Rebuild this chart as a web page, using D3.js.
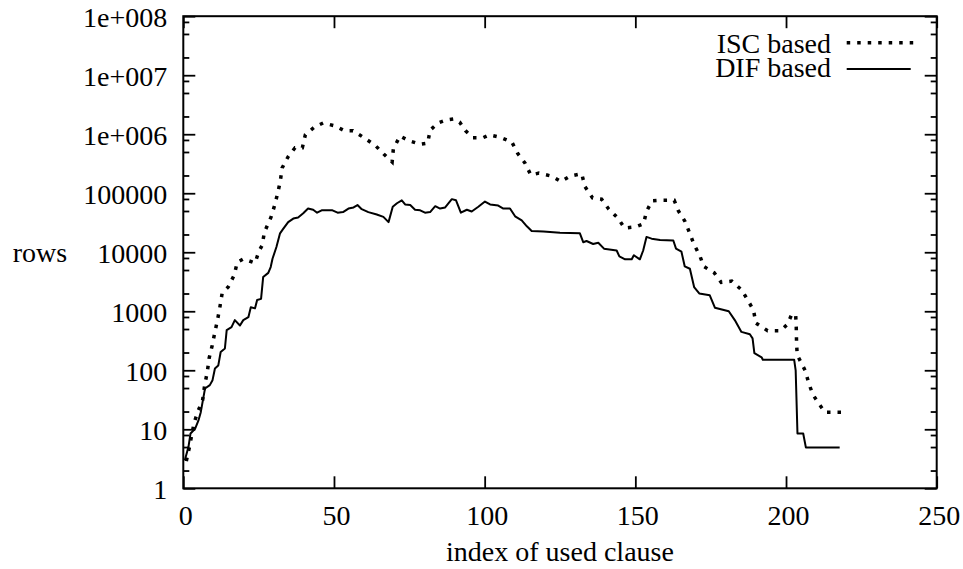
<!DOCTYPE html>
<html>
<head>
<meta charset="utf-8">
<script src="https://cdn.jsdelivr.net/npm/d3@7"></script>
<style>
  html, body { margin: 0; padding: 0; background: #fff; }
  svg { display: block; }
  svg text { font-family: 'Liberation Serif', 'DejaVu Serif', 'Times New Roman', Times, serif !important; font-size: 28px; fill: #000; }
</style>
</head>
<body>
<svg id="chart" width="963" height="569"></svg>
<script>
// ---- data ----
const xTicks = [0, 50, 100, 150, 200, 250];
const yTicks = [1, 10, 100, 1000, 10000, 100000, 1e6, 1e7, 1e8];
const yTickLabels = ["1", "10", "100", "1000", "10000", "100000", "1e+006", "1e+007", "1e+008"];
const seriesNames = ["ISC based", "DIF based"];

// ISC based (dotted)
const iscIndex = [1, 2, 3.6, 5, 6.4, 7, 8, 8.6, 9.6, 10.5, 11.4, 12.2, 12.9, 14.9, 16.9, 17.9, 19.9, 23.8, 25.1, 26.2,
  26.9, 29.1, 30.4, 31.5, 32.2, 32.8, 34.8, 37.1, 39.5, 40.5, 43.5, 46.4, 50.4, 53.4, 56.3, 60, 63.7, 66.6, 69.3, 69.7,
  71.9, 74.9, 78.6, 81.1, 81.9, 84.5, 87.2, 89.8, 91.7, 93.6, 96.1, 99.4, 101.6, 105.1, 109, 111, 113.4, 115.3, 118, 122.2,
  125.3, 128.3, 132.2, 133.3, 135.8, 138.8, 141.2, 144.2, 146.4, 150.1, 152.7, 153.7, 155.5, 158.4, 162.9, 164.3, 166.4, 167.9, 169.4, 171.4,
  172.7, 176.2, 178.5, 182, 185.3, 187.6, 189.2, 190, 193.9, 198.2, 200.5, 201.9, 203.2, 203.4, 203.5, 203.7, 206.4, 207.6, 208.9, 210.7,
  212.9, 218.4];
const iscRows = [2.9, 4.9, 13, 21, 31, 52, 97, 162, 265, 447, 731, 1230, 2040, 2570, 4120, 6760, 7710, 6590, 10400, 13200,
  21800, 39200, 64600, 110000, 162000, 269000, 417000, 589000, 589000, 977000, 1320000, 1550000, 1380000, 1150000, 1150000, 871000, 646000, 457000, 339000, 562000,
  933000, 776000, 676000, 708000, 1170000, 1550000, 1740000, 1820000, 1600000, 1150000, 871000, 871000, 977000, 891000, 741000, 468000, 324000, 204000, 219000, 195000,
  158000, 195000, 214000, 129000, 83200, 79400, 53700, 38000, 25700, 26900, 30200, 49000, 74100, 75900, 75900, 50100, 33900, 21900, 13800, 8710,
  5750, 4470, 3090, 3240, 2290, 1450, 1050, 631, 468, 468, 603, 891, 871, 525, 295, 182, 98, 59, 39, 28,
  19.5, 19.5];

// DIF based (solid)
const difIndex = [0.5, 1.7, 2.4, 3.9, 5, 5.8, 6.6, 7.2, 8.8, 9.7, 10.5, 11.6, 12.4, 13.8, 14.4, 16, 17.1, 18.8, 19.9, 21.6,
  22.4, 23.8, 24.5, 25.8, 26.5, 28.2, 29, 29.6, 30.9, 32.1, 33.2, 34.8, 36.5, 38.1, 39.8, 41.4, 43.1, 44.4, 45.9, 49.5,
  51.2, 53, 54.8, 56.5, 57.8, 59.2, 61.4, 64.2, 66.4, 68.1, 69.5, 70.9, 72.5, 73.6, 75.3, 76.9, 78.6, 80.2, 81.9, 83.6,
  85.2, 86.9, 89.1, 90.5, 92.1, 94.1, 95.7, 97.9, 100.1, 101.8, 104.5, 106.2, 108.4, 110.1, 112.3, 114, 115.6, 119.5, 125, 131.6,
  132.7, 133.8, 136, 137.7, 139.6, 143.8, 144.7, 146.6, 148.8, 149.5, 151.5, 152.6, 153.7, 155.4, 158.2, 162.6, 163.5, 165.3, 166.4, 168.1,
  169.5, 171.2, 174.7, 176.4, 181, 183, 185.2, 188, 188.9, 189.5, 191.9, 192.3, 202.7, 203.2, 203.8, 205.7, 206.6, 217.8];
const difRows = [3, 5, 8.5, 10.2, 14, 19.5, 33, 49, 56, 68, 107, 120, 204, 234, 479, 537, 708, 575, 708, 794,
  1170, 1120, 1550, 1620, 3800, 4470, 5620, 7760, 12300, 20900, 25100, 32400, 37200, 38900, 45700, 55000, 52500, 46800, 51300, 51300,
  46800, 47900, 55000, 57500, 63100, 53700, 47900, 43700, 39800, 32400, 58900, 67600, 75900, 64600, 63100, 52500, 51300, 46800, 47900, 60300,
  55000, 57500, 79400, 75900, 46800, 52500, 49000, 58900, 72400, 64600, 61700, 55000, 55000, 40700, 34700, 27500, 22900, 22400, 21400, 20900,
  14800, 15500, 13800, 14500, 11500, 10700, 8510, 7590, 7590, 8910, 7590, 10700, 18200, 17000, 16200, 15800, 11500, 10200, 5750, 5250,
  2570, 2000, 1860, 1150, 1000, 708, 447, 407, 347, 195, 166, 151, 151, 100, 8.5, 8.5, 4.9, 4.9];

// ---- layout ----
const FONT = "'Liberation Serif', 'DejaVu Serif', 'Times New Roman', Times, serif";
const L = 183.3, R = 936.7, T = 16.2, B = 488.3;
const svg = d3.select("#chart").attr("font-family", FONT);
const x = d3.scaleLinear().domain([0, 250]).range([L, R]);
const y = d3.scaleLog().domain([1, 1e8]).range([B, T]);

const minorTicks = [];
for (let k = 0; k < 8; k++) [2, 5, 8].forEach(m => minorTicks.push(m * Math.pow(10, k)));

function styleAxis(g) {
  g.attr("font-family", FONT).attr("font-size", 28);
  g.select(".domain").remove();
  g.selectAll(".tick line").attr("stroke", "#000").attr("stroke-width", 1.8);
  g.selectAll("text").attr("fill", "#000");
}

// bottom axis with labels
const gBottom = svg.append("g").attr("transform", `translate(0,${B})`)
  .call(d3.axisBottom(x).tickValues(xTicks).tickFormat(d3.format("d")).tickSize(-12))
  .call(styleAxis);
gBottom.selectAll("text").attr("y", 37).attr("dy", null).attr("dx", 2);

// top axis (mirror)
svg.append("g").attr("transform", `translate(0,${T})`)
  .call(d3.axisTop(x).tickValues(xTicks).tickFormat("").tickSize(-12))
  .call(styleAxis);

// left axis with labels
const gLeft = svg.append("g").attr("transform", `translate(${L},0)`)
  .call(d3.axisLeft(y).tickValues(yTicks).tickFormat((d, i) => yTickLabels[i]).tickSize(-12))
  .call(styleAxis);
gLeft.selectAll("text").attr("x", -16).attr("dy", null).attr("y", 10);
svg.append("g").attr("transform", `translate(${L},0)`)
  .call(d3.axisLeft(y).tickValues(minorTicks).tickFormat("").tickSize(-6))
  .call(styleAxis);

// right axis (mirror)
svg.append("g").attr("transform", `translate(${R},0)`)
  .call(d3.axisRight(y).tickValues(yTicks).tickFormat("").tickSize(-12))
  .call(styleAxis);
svg.append("g").attr("transform", `translate(${R},0)`)
  .call(d3.axisRight(y).tickValues(minorTicks).tickFormat("").tickSize(-6))
  .call(styleAxis);

// border
svg.append("rect").attr("x", L).attr("y", T).attr("width", R - L).attr("height", B - T)
  .attr("fill", "none").attr("stroke", "#000").attr("stroke-width", 2);

// series
const line = d3.line().x(d => x(d[0])).y(d => y(d[1]));
const isc = iscIndex.map((d, i) => [d, iscRows[i]]);
const dif = difIndex.map((d, i) => [d, difRows[i]]);

svg.append("path").datum(isc).attr("d", line)
  .attr("fill", "none").attr("stroke", "#000").attr("stroke-width", 3.5)
  .attr("stroke-dasharray", "3.5,7").attr("stroke-linecap", "butt");
svg.append("path").datum(dif).attr("d", line)
  .attr("fill", "none").attr("stroke", "#000").attr("stroke-width", 2)
  .attr("stroke-linejoin", "round");

// axis titles
svg.append("text").attr("x", 560).attr("y", 561).attr("text-anchor", "middle").text("index of used clause");
svg.append("text").attr("x", 40).attr("y", 262).attr("text-anchor", "middle").text("rows");

// legend
const lg = svg.append("g");
lg.append("text").attr("x", 831).attr("y", 53).attr("text-anchor", "end").text(seriesNames[0]);
lg.append("text").attr("x", 831).attr("y", 77).attr("text-anchor", "end").text(seriesNames[1]);
lg.append("line").attr("x1", 846.7).attr("x2", 913.3).attr("y1", 42.7).attr("y2", 42.7)
  .attr("stroke", "#000").attr("stroke-width", 3.5).attr("stroke-dasharray", "3.5,7");
lg.append("line").attr("x1", 846.7).attr("x2", 910.7).attr("y1", 69).attr("y2", 69)
  .attr("stroke", "#000").attr("stroke-width", 2);
</script>
</body>
</html>
